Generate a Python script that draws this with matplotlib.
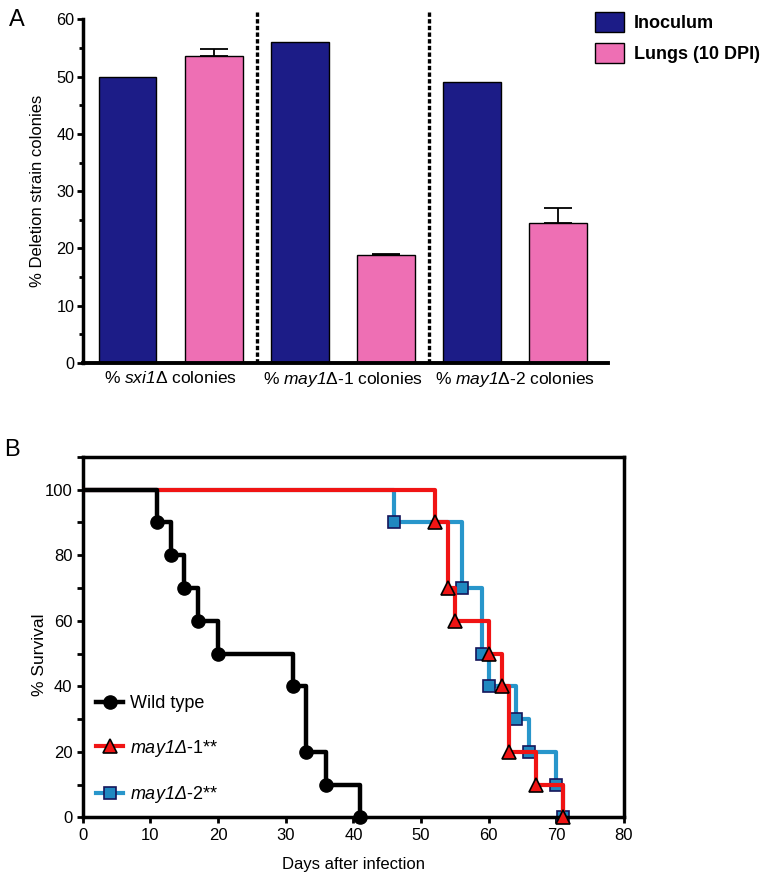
import matplotlib.pyplot as plt
from matplotlib.patches import Patch
from matplotlib.lines import Line2D
from matplotlib.ticker import MultipleLocator

plt.rcParams['font.family'] = ['Liberation Sans', 'DejaVu Sans']
plt.rcParams['mathtext.fontset'] = 'custom'
plt.rcParams['mathtext.rm'] = 'Liberation Sans'
plt.rcParams['mathtext.it'] = 'Liberation Sans:italic'
# sf slot used for fully italic gene names (digits included)
plt.rcParams['mathtext.sf'] = 'Liberation Sans:italic'

# panel A data
group_labels = [r'% $\mathsf{sxi1}$Δ colonies',
                r'% $\mathsf{may1}$Δ-1 colonies',
                r'% $\mathsf{may1}$Δ-2 colonies']
inoculum = [50, 56, 49]
lungs = [53.6, 18.8, 24.5]
lungs_err = [1.3, 0.2, 2.5]

# panel B data (Kaplan-Meier steps)
wt_days = [0, 11, 13, 15, 17, 20, 31, 33, 36, 41]
wt_surv = [100, 90, 80, 70, 60, 50, 40, 20, 10, 0]
m1_days = [0, 52, 54, 55, 60, 62, 63, 67, 71]
m1_surv = [100, 90, 70, 60, 50, 40, 20, 10, 0]
m2_days = [0, 46, 56, 59, 60, 64, 66, 70, 71]
m2_surv = [100, 90, 70, 50, 40, 30, 20, 10, 0]
surv_labels = ['Wild type', r'$\mathsf{may1Δ}$-1**', r'$\mathsf{may1Δ}$-2**']

navy = '#1c1c87'
pink = '#ee6fb4'
red = '#f01414'
blue = '#2896cb'

fig = plt.figure(figsize=(7.6, 8.77), dpi=100)

# ---------------- panel A ----------------
axA = fig.add_axes([0.109, 0.586, 0.691, 0.392])
xi = [2 * i for i in range(3)]
xl = [2 * i + 1 for i in range(3)]
axA.bar(xi, inoculum, width=0.67, color=navy, edgecolor='black', lw=1, zorder=2)
axA.bar(xl, lungs, width=0.67, color=pink, edgecolor='black', lw=1, zorder=2)
axA.errorbar(xl, lungs, yerr=[[0] * 3, lungs_err], fmt='none', ecolor='black',
             elinewidth=1.3, capsize=10, capthick=1.3, zorder=3)
for xd in [1.5, 3.5]:
    axA.plot([xd, xd], [0, 61.5], color='black', lw=2.4, ls=(0, (1.3, 0.7)),
             clip_on=False, zorder=1)
axA.set_xlim(-0.52, 5.58)
axA.set_ylim(0, 60)
axA.spines['top'].set_visible(False)
axA.spines['right'].set_visible(False)
axA.spines['left'].set_linewidth(2.5)
axA.spines['bottom'].set_linewidth(2.8)
axA.yaxis.set_major_locator(MultipleLocator(10))
axA.yaxis.set_minor_locator(MultipleLocator(5))
axA.tick_params(axis='y', which='major', length=4, width=2, labelsize=11.7, pad=2)
axA.tick_params(axis='y', which='minor', length=3, width=2)
axA.set_xticks([0.5, 2.5, 4.5])
axA.set_xticklabels(group_labels)
axA.tick_params(axis='x', length=0, labelsize=12.5, pad=5)
fig.text(38 / 760, 1 - 191 / 877, '% Deletion strain colonies', rotation=90,
         ha='center', va='center', fontsize=12)
fig.text(0.012, 1 - 20 / 877, 'A', fontsize=17, va='center')

leg_handles = [Patch(facecolor=navy, edgecolor='black', lw=1),
               Patch(facecolor=pink, edgecolor='black', lw=1)]
fig.legend(leg_handles, ['Inoculum', 'Lungs (10 DPI)'], loc='upper left',
           bbox_to_anchor=(595 / 760, 1 - 12 / 877), frameon=False,
           borderpad=0, borderaxespad=0, handlelength=1.6, handleheight=1.33,
           handletextpad=0.55, labelspacing=0.6,
           prop={'weight': 'bold', 'size': 13})

# ---------------- panel B ----------------
axB = fig.add_axes([0.109, 0.068, 0.712, 0.411])
axB.step(m2_days, m2_surv, where='post', color=blue, lw=3, zorder=2)
axB.plot(m2_days[1:], m2_surv[1:], ls='none', marker='s', ms=9,
         mfc='#2088c0', mec='#15155a', mew=1.2, zorder=2, clip_on=False)
axB.step(m1_days, m1_surv, where='post', color=red, lw=3, zorder=3)
axB.plot(m1_days[1:], m1_surv[1:], ls='none', marker='^', ms=10,
         mfc=red, mec='black', mew=1.2, zorder=3, clip_on=False)
axB.step(wt_days, wt_surv, where='post', color='black', lw=3.2, zorder=4)
axB.plot(wt_days[1:], wt_surv[1:], ls='none', marker='o', ms=9.5,
         color='black', zorder=4, clip_on=False)

axB.set_xlim(0, 80)
axB.set_ylim(0, 110)
for s in axB.spines.values():
    s.set_linewidth(2.5)
axB.xaxis.set_major_locator(MultipleLocator(10))
axB.set_yticks([0, 20, 40, 60, 80, 100])
axB.yaxis.set_minor_locator(MultipleLocator(10))
axB.tick_params(which='major', direction='out', length=4, width=2, labelsize=12)
axB.tick_params(which='minor', direction='out', length=4, width=2)
axB.set_xlabel('Days after infection', fontsize=12, labelpad=10)
fig.text(40 / 760, 1 - 655 / 877, '% Survival', rotation=90,
         ha='center', va='center', fontsize=12.5)
fig.text(0.006, 1 - 450 / 877, 'B', fontsize=17, va='center')

lh = [Line2D([], [], color='black', lw=3.2, marker='o', ms=9.5),
      Line2D([], [], color=red, lw=3, marker='^', ms=10, mfc=red, mec='black', mew=1.2),
      Line2D([], [], color=blue, lw=3, marker='s', ms=9, mfc='#2088c0',
             mec='#15155a', mew=1.2)]
axB.legend(lh, surv_labels,
           loc='upper left', bbox_to_anchor=(96 / 760, 1 - 695 / 877),
           bbox_transform=fig.transFigure, frameon=False, borderpad=0,
           borderaxespad=0, handlelength=1.5, handletextpad=0.4,
           labelspacing=1.42, fontsize=13)

fig.savefig('out.png', dpi=100)
